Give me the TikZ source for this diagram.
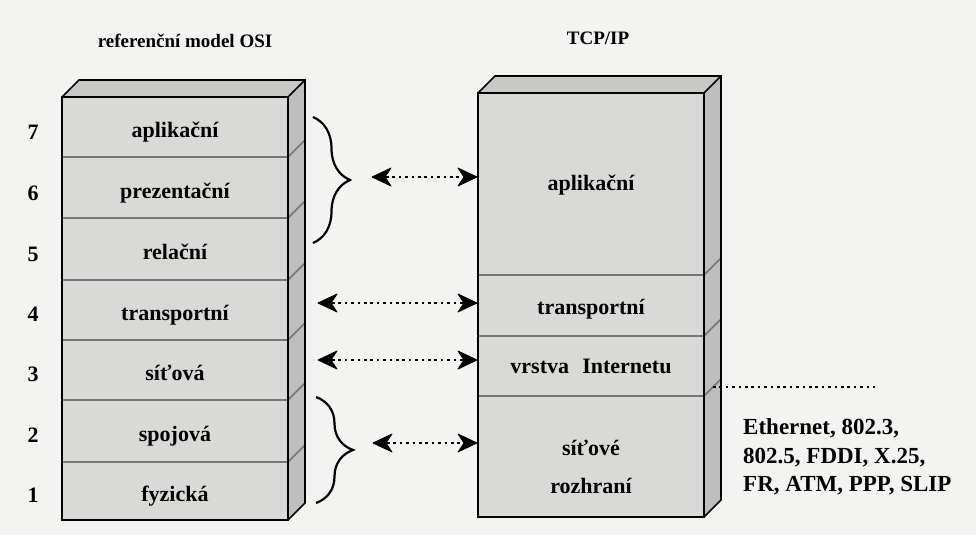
\documentclass[tikz,border=0pt]{standalone}
\usepackage{fontspec}
\setmainfont{Liberation Serif}
\usetikzlibrary{arrows.meta,decorations.pathreplacing}
\definecolor{bgc}{RGB}{243,243,241}
\definecolor{frontc}{RGB}{217,217,215}
\definecolor{topc}{RGB}{200,200,198}
\definecolor{sidec}{RGB}{190,190,188}
\definecolor{divc}{RGB}{118,118,118}
\begin{document}
\begin{tikzpicture}[x=1pt,y=-1pt,
  outline/.style={draw=black,line width=1.6pt,line join=miter},
  divline/.style={draw=divc,line width=1.6pt},
  lab/.style={font=\bfseries\fontsize{22}{26}\selectfont,anchor=base,inner sep=0pt},
  num/.style={font=\bfseries\fontsize{22}{26}\selectfont,anchor=base,inner sep=0pt},
  ttl/.style={font=\bfseries\fontsize{19}{23}\selectfont,anchor=base,inner sep=0pt},
  eth/.style={font=\bfseries\fontsize{23}{28}\selectfont,anchor=base west,inner sep=0pt},
  dotline/.style={line width=2.6pt,dash pattern=on 2.6pt off 3.8pt},
  tipfill/.style={fill=black,draw=black,line width=0.8pt,line join=round},
  bracestyle/.style={line width=2.2pt,decorate,decoration={brace,amplitude=37pt}}
]
\fill[bgc] (0,0) rectangle (976,535);
\useasboundingbox (0,0) rectangle (976,535);

% ---------- OSI stack ----------
\def\L{62}\def\R{288}\def\T{97}\def\B{520}\def\D{17}
\fill[topc] (\L,\T) -- (\L+\D,\T-\D) -- (\R+\D,\T-\D) -- (\R,\T) -- cycle;
\fill[sidec] (\R,\T) -- (\R+\D,\T-\D) -- (\R+\D,\B-\D) -- (\R,\B) -- cycle;
\fill[frontc] (\L,\T) rectangle (\R,\B);
\foreach \y in {157,218,280,340,400,462}{
  \draw[divline] (\L,\y) -- (\R,\y) -- (\R+\D,\y-\D);
}
\draw[outline] (\L,\T) rectangle (\R,\B);
\draw[outline] (\L,\T) -- (\L+\D,\T-\D) -- (\R+\D,\T-\D) -- (\R+\D,\B-\D) -- (\R,\B);
\draw[outline] (\R,\T) -- (\R+\D,\T-\D);

\node[ttl] (osititle) at (185,48) {referenční model OSI};
\node[lab] (o7) at (175,137) {aplikační};
\node[lab] (o6) at (175,198) {prezentační};
\node[lab] (o5) at (175,259) {relační};
\node[lab] (o4) at (175,320) {transportní};
\node[lab] (o3) at (175,380) {síťová};
\node[lab] (o2) at (175,441) {spojová};
\node[lab] (o1) at (175,501) {fyzická};
\node[num] (n7) at (33,139) {7};
\node[num] (n6) at (33,200) {6};
\node[num] (n5) at (33,261) {5};
\node[num] (n4) at (33,321) {4};
\node[num] (n3) at (33,381) {3};
\node[num] (n2) at (33,442) {2};
\node[num] (n1) at (33,502) {1};

% ---------- TCP/IP stack ----------
\def\L{478}\def\R{704}\def\T{93}\def\B{517}
\fill[topc] (\L,\T) -- (\L+\D,\T-\D) -- (\R+\D,\T-\D) -- (\R,\T) -- cycle;
\fill[sidec] (\R,\T) -- (\R+\D,\T-\D) -- (\R+\D,\B-\D) -- (\R,\B) -- cycle;
\fill[frontc] (\L,\T) rectangle (\R,\B);
\foreach \y in {275,336,396}{
  \draw[divline] (\L,\y) -- (\R,\y) -- (\R+\D,\y-\D);
}
\draw[outline] (\L,\T) rectangle (\R,\B);
\draw[outline] (\L,\T) -- (\L+\D,\T-\D) -- (\R+\D,\T-\D) -- (\R+\D,\B-\D) -- (\R,\B);
\draw[outline] (\R,\T) -- (\R+\D,\T-\D);

\node[ttl] (tcptitle) at (598,45) {TCP/IP};
\node[lab] (t4) at (591,190) {aplikační};
\node[lab] (t3) at (591,314) {transportní};
\node[lab] (t2) at (591,373) {vrstva\hspace{0.6em}Internetu};
\node[lab] (t1a) at (591,455) {síťové};
\node[lab] (t1b) at (591,493) {rozhraní};

% ---------- braces ----------
\draw[bracestyle] (313,117) -- (313,243);
\draw[bracestyle] (316,397) -- (316,503);

% ---------- arrows ----------
\coordinate (a1) at (372,177); \coordinate (b1) at (477,177);
\coordinate (a2) at (318,303); \coordinate (b2) at (477,303);
\coordinate (a3) at (318,360); \coordinate (b3) at (477,360);
\coordinate (a4) at (373,443); \coordinate (b4) at (477,443);
\foreach \s/\e in {a1/b1,a2/b2,a3/b3,a4/b4}{
  \draw[dotline,shorten <=14pt,shorten >=14pt] (\s) -- (\e);
  \filldraw[tipfill] (\s) -- ++(19,-9) -- ++(-6,9) -- ++(6,9) -- cycle;
  \filldraw[tipfill] (\e) -- ++(-19,-9) -- ++(6,9) -- ++(-6,9) -- cycle;
}

% ---------- network interface protocols ----------
\coordinate (d1) at (713,387); \coordinate (d2) at (875,387);
\draw[dotline] (d1) -- (d2);
\node[eth] (e1) at (743,434) {Ethernet, 802.3,};
\node[eth] (e2) at (743,463) {802.5, FDDI, X.25,};
\node[eth] (e3) at (743,491) {FR, ATM, PPP, SLIP};
\end{tikzpicture}
\end{document}
